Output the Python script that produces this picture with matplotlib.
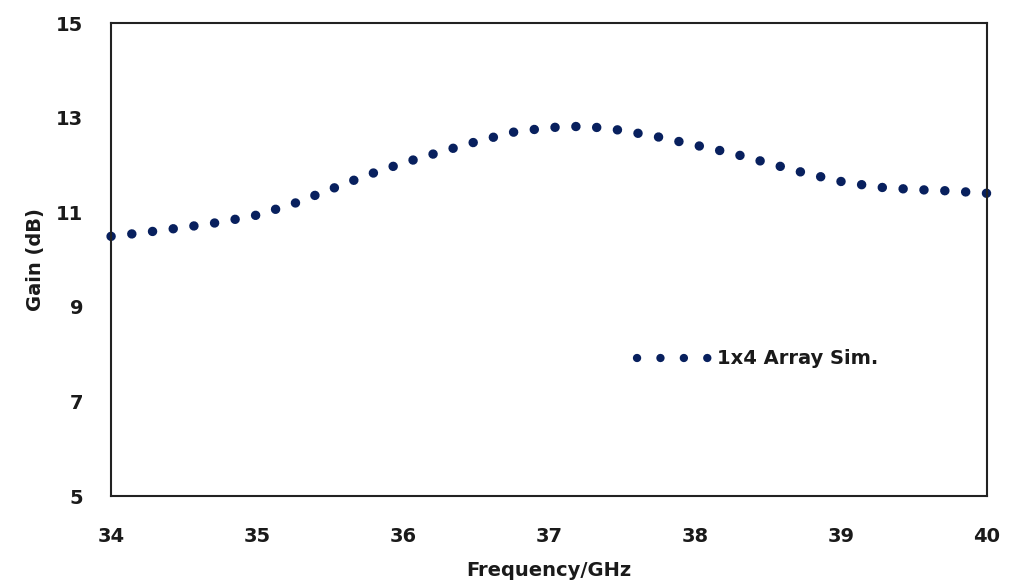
import matplotlib
matplotlib.use("Agg")
import matplotlib.pyplot as plt

freq = [34.00, 34.25, 34.50, 34.75, 35.00, 35.25, 35.50, 35.75, 36.00, 36.25,
        36.50, 36.75, 37.00, 37.25, 37.50, 37.75, 38.00, 38.25, 38.50, 38.75,
        39.00, 39.25, 39.50, 39.75, 40.00]
gain = [10.49, 10.58, 10.68, 10.79, 10.94, 11.18, 11.48, 11.78, 12.04, 12.27,
        12.49, 12.69, 12.79, 12.82, 12.73, 12.59, 12.42, 12.25, 12.04, 11.83,
        11.65, 11.53, 11.48, 11.45, 11.40]
series_label = "1x4 Array Sim."
xticks = [34, 35, 36, 37, 38, 39, 40]
yticks = [5, 7, 9, 11, 13, 15]

plt.rcParams['font.family'] = ['DejaVu Sans']
fig = plt.figure(figsize=(10.14, 5.83), dpi=100)
ax = fig.add_axes([0.1095, 0.1492, 0.8639, 0.8113])

navy = '#08205e'
line, = ax.plot(freq, gain, color=navy, lw=6.8, linestyle=(0, (0.01, 2.2)),
                dash_capstyle='round', label=series_label, clip_on=False)

ax.set_xlim(34, 40)
ax.set_ylim(5, 15)
ax.set_xticks(xticks)
ax.set_yticks(yticks)
ax.tick_params(axis='x', length=0, labelsize=14, pad=22)
ax.tick_params(axis='y', length=0, labelsize=14, pad=20)
for lab in ax.get_xticklabels() + ax.get_yticklabels():
    lab.set_fontweight('bold')
    lab.set_color('#1a1a1a')
for s in ax.spines.values():
    s.set_linewidth(1.5)
    s.set_color('#222222')

ax.set_xlabel("Frequency/GHz", fontsize=14, fontweight='bold', labelpad=11, color='#1a1a1a')
ax.set_ylabel("Gain (dB)", fontsize=14, fontweight='bold', labelpad=8, color='#1a1a1a')

leg = ax.legend(loc='center left', bbox_to_anchor=(0.58, 0.29), frameon=False,
                fontsize=14, handlelength=3.7, handletextpad=0.45)
for t in leg.get_texts():
    t.set_fontweight('bold')
    t.set_color('#1a1a1a')
for h in leg.get_lines():
    h.set_linewidth(6.0)
    h.set_dashes((0.01, 2.8))

fig.savefig("out.png", dpi=100)
